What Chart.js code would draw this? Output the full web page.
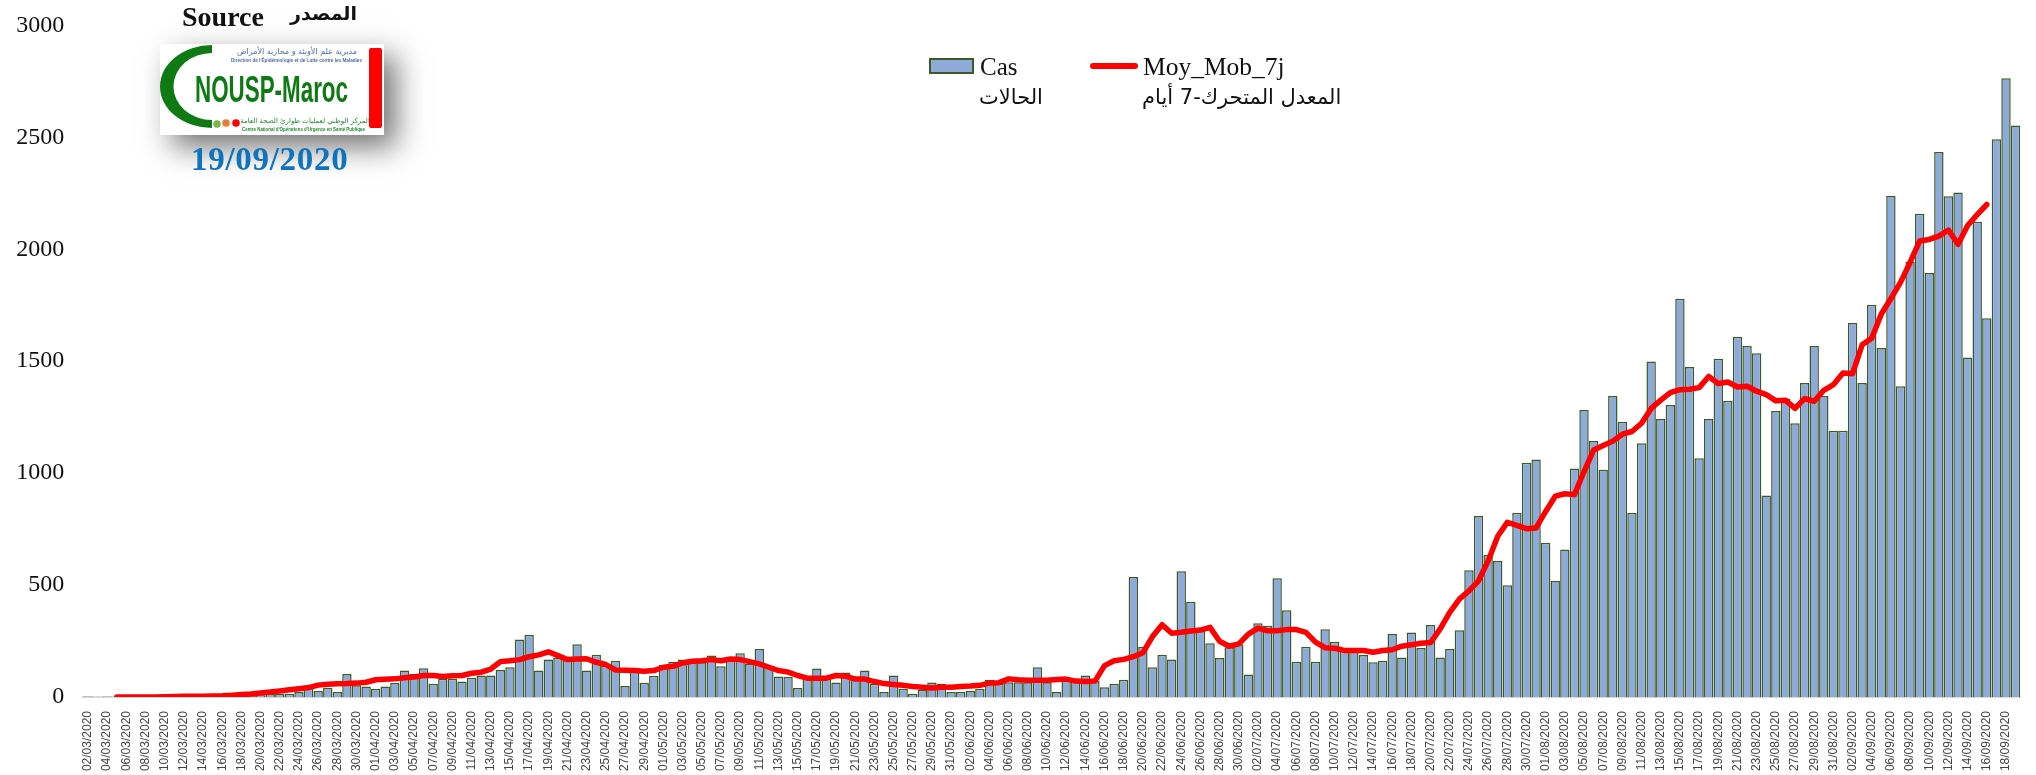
<!DOCTYPE html>
<html lang="fr">
<head>
<meta charset="utf-8">
<title>Cas COVID-19 Maroc</title>
<script src="https://cdn.jsdelivr.net/npm/chart.js@4/dist/chart.umd.min.js"></script>
<style>
  html, body { margin: 0; padding: 0; background: #fff; }
  #wrap { position: relative; width: 2036px; height: 775px; overflow: hidden; }
  #wrap canvas { position: absolute; left: 0; top: 0; }
  .t { position: absolute; white-space: nowrap; line-height: 1; color: #111; }
  .serif { font-family: "Liberation Serif", serif; }
  .ar { font-family: "DejaVu Sans", sans-serif; direction: rtl; }
  #logo { position: absolute; left: 160px; top: 44px; width: 224px; height: 91px; background: #fff;
          box-shadow: 12px 12px 28px rgba(0,0,0,.55); }
  #swatch { position: absolute; left: 929px; top: 58px; width: 41px; height: 12px; background: #8eaadb; border: 2px solid #3d5c23; }
  #lineKey { position: absolute; left: 1090px; top: 63px; width: 48px; height: 6px; border-radius: 3px; background: #ff0000; }
</style>
</head>
<body>
<div id="wrap">
  <canvas id="casChart" width="2036" height="775"></canvas>

  <div id="logo">
    <svg width="224" height="91" viewBox="0 0 224 91">
      <path d="M52 1 A52 41.5 0 0 0 52 84 L52 76 A38 33 0 0 1 52 9 Z" fill="#0f7a14"/>
      <text x="35" y="58" font-family="Liberation Sans" font-weight="bold" font-size="36" fill="#0f7a14" textLength="153" lengthAdjust="spacingAndGlyphs">NOUSP-Maroc</text>
      <text x="137" y="10" font-family="DejaVu Sans" font-size="8" fill="#4a6fa5" text-anchor="middle" direction="rtl">مديرية علم الأوبئة و محاربة الأمراض</text>
      <text x="71" y="18" font-family="Liberation Sans" font-weight="bold" font-size="5.5" fill="#4a6fa5" textLength="131" lengthAdjust="spacingAndGlyphs">Direction de l'Épidémiologie et de Lutte contre les Maladies</text>
      <text x="145" y="79" font-family="DejaVu Sans" font-size="7" fill="#1c8a2a" text-anchor="middle" direction="rtl">المركز الوطني لعمليات طوارئ الصحة العامة</text>
      <text x="82" y="87" font-family="Liberation Sans" font-weight="bold" font-size="5" fill="#1c8a2a" textLength="123" lengthAdjust="spacingAndGlyphs">Centre National d'Opérations d'Urgence en Santé Publique</text>
      <circle cx="57" cy="80" r="3.8" fill="#7ab648"/>
      <circle cx="66" cy="79" r="3.8" fill="#ed7d31"/>
      <circle cx="76" cy="79" r="3.8" fill="#ff0000"/>
      <rect x="209" y="4" width="13" height="80" rx="2" fill="#ff0000"/>
    </svg>
  </div>

  <div class="t serif" style="left:182px; top:3px; font-size:28px; font-weight:bold;">Source</div>
  <div class="t ar" style="left:290px; top:4px; font-size:19px; font-weight:bold;">المصدر</div>
  <div class="t serif" style="left:191px; top:143px; font-size:33px; font-weight:bold; letter-spacing:0.7px; color:#0f73bd;">19/09/2020</div>

  <div id="swatch"></div>
  <div class="t serif" style="left:980px; top:54px; font-size:25px;">Cas</div>
  <div class="t ar" style="left:979px; top:87px; font-size:21px;">الحالات</div>
  <div id="lineKey"></div>
  <div class="t serif" style="left:1143px; top:54px; font-size:25.5px;">Moy_Mob_7j</div>
  <div class="t ar" style="left:1142px; top:87px; font-size:21px;">المعدل المتحرك-7 أيام</div>
</div>

<script>
// dates, one bar per day
const categories = [
  "02/03/2020","03/03/2020","04/03/2020","05/03/2020","06/03/2020","07/03/2020","08/03/2020","09/03/2020","10/03/2020","11/03/2020",
  "12/03/2020","13/03/2020","14/03/2020","15/03/2020","16/03/2020","17/03/2020","18/03/2020","19/03/2020","20/03/2020","21/03/2020",
  "22/03/2020","23/03/2020","24/03/2020","25/03/2020","26/03/2020","27/03/2020","28/03/2020","29/03/2020","30/03/2020","31/03/2020",
  "01/04/2020","02/04/2020","03/04/2020","04/04/2020","05/04/2020","06/04/2020","07/04/2020","08/04/2020","09/04/2020","10/04/2020",
  "11/04/2020","12/04/2020","13/04/2020","14/04/2020","15/04/2020","16/04/2020","17/04/2020","18/04/2020","19/04/2020","20/04/2020",
  "21/04/2020","22/04/2020","23/04/2020","24/04/2020","25/04/2020","26/04/2020","27/04/2020","28/04/2020","29/04/2020","30/04/2020",
  "01/05/2020","02/05/2020","03/05/2020","04/05/2020","05/05/2020","06/05/2020","07/05/2020","08/05/2020","09/05/2020","10/05/2020",
  "11/05/2020","12/05/2020","13/05/2020","14/05/2020","15/05/2020","16/05/2020","17/05/2020","18/05/2020","19/05/2020","20/05/2020",
  "21/05/2020","22/05/2020","23/05/2020","24/05/2020","25/05/2020","26/05/2020","27/05/2020","28/05/2020","29/05/2020","30/05/2020","31/05/2020",
  "01/06/2020","02/06/2020","03/06/2020","04/06/2020","05/06/2020","06/06/2020","07/06/2020","08/06/2020","09/06/2020","10/06/2020",
  "11/06/2020","12/06/2020","13/06/2020","14/06/2020","15/06/2020","16/06/2020","17/06/2020","18/06/2020","19/06/2020","20/06/2020",
  "21/06/2020","22/06/2020","23/06/2020","24/06/2020","25/06/2020","26/06/2020","27/06/2020","28/06/2020","29/06/2020","30/06/2020",
  "01/07/2020","02/07/2020","03/07/2020","04/07/2020","05/07/2020","06/07/2020","07/07/2020","08/07/2020","09/07/2020","10/07/2020",
  "11/07/2020","12/07/2020","13/07/2020","14/07/2020","15/07/2020","16/07/2020","17/07/2020","18/07/2020","19/07/2020","20/07/2020",
  "21/07/2020","22/07/2020","23/07/2020","24/07/2020","25/07/2020","26/07/2020","27/07/2020","28/07/2020","29/07/2020","30/07/2020","31/07/2020",
  "01/08/2020","02/08/2020","03/08/2020","04/08/2020","05/08/2020","06/08/2020","07/08/2020","08/08/2020","09/08/2020","10/08/2020",
  "11/08/2020","12/08/2020","13/08/2020","14/08/2020","15/08/2020","16/08/2020","17/08/2020","18/08/2020","19/08/2020","20/08/2020",
  "21/08/2020","22/08/2020","23/08/2020","24/08/2020","25/08/2020","26/08/2020","27/08/2020","28/08/2020","29/08/2020","30/08/2020","31/08/2020",
  "01/09/2020","02/09/2020","03/09/2020","04/09/2020","05/09/2020","06/09/2020","07/09/2020","08/09/2020","09/09/2020","10/09/2020",
  "11/09/2020","12/09/2020","13/09/2020","14/09/2020","15/09/2020","16/09/2020","17/09/2020","18/09/2020","19/09/2020"
];

// daily cases
const cas = [
  2,0,2,0,0,0,0,0,1,2, 3,1,0,2,10,10,9,10,8,13, 15,15,22,47,27,41,22,103,52,47,
  37,47,62,118,103,128,59,81,81,69, 86,96,96,121,133,257,278,118,168,175,
  165,236,118,189,140,162,49,128,64,95, 143,158,168,155,155,185,137,165,195,148,
  214,140,92,89,40,81,127,81,65,109, 81,118,59,22,96,37,15,32,65,59, 22,
  22,27,37,77,59,66,66,66,133,66, 22,74,71,96,71,44,59,77,536,225,
  133,189,168,562,426,295,240,174,222,236,
  100,329,318,530,388,158,224,158,303,247, 214,207,188,155,162,281,177,288,219,322,
  177,214,298,566,808,634,608,499,823,1046,1061,
  689,518,659,1021,1282,1143,1015,1345,1230,823, 1134,1499,1242,1304,1779,1474,1066,1242,1511,1323,
  1609,1568,1536,900,1277,1333,1223,1403,1568,1345,1189,
  1189,1671,1403,1752,1559,2238,1388,1945,2159,1894, 2435,2237,2254,1516,2123,1692,2491,2764,2553
];

// 7 day moving average, centred
const moyMob7j = [
  null,null,null,0,0,0,0,0,1,2, 3,3,3,5,6,8,11,13,18,22, 27,32,37,42,53,57,59,60,62,66,
  77,79,81,86,89,96,96,92,95,96, 106,111,125,158,162,167,180,188,202,185,
  167,170,171,155,145,121,120,118,115,118, 133,137,152,160,162,167,162,170,167,158,
  148,133,118,111,96,84,84,84,96,93, 80,80,69,60,56,52,47,44,40,44, 44,
  47,49,52,62,64,81,77,75,75,75, 78,80,71,69,71,140,162,168,180,198,
  270,323,285,289,295,299,311,249,227,237,
  281,308,296,296,301,301,289,245,220,218, 208,208,208,200,208,211,227,233,240,243,
  304,378,437,474,519,608,718,780,767,752,755,
  829,897,908,904,1007,1103,1123,1143,1174,1186, 1223,1289,1326,1360,1373,1375,1382,1432,1400,1407,
  1385,1388,1366,1351,1323,1326,1289,1333,1321,1370,1395,
  1447,1444,1573,1603,1711,1780,1852,1941,2037,2044, 2059,2086,2022,2106,2155,2200,null,null,null
];

const yMax = 3000;
const yStep = 500;

new Chart(document.getElementById("casChart"), {
  data: {
    labels: categories,
    datasets: [
      {
        type: "line",
        label: "Moy_Mob_7j",
        data: moyMob7j,
        borderColor: "#ff0000",
        borderWidth: 5.5,
        borderCapStyle: "round",
        borderJoinStyle: "round",
        pointRadius: 0,
        tension: 0,
        order: 1,
      },
      {
        type: "bar",
        label: "Cas",
        data: cas,
        backgroundColor: "#8eaadb",
        borderColor: "#3d5c23",
        borderWidth: 1.5,
        categoryPercentage: 1,
        barPercentage: 0.98,
        order: 2,
      },
    ],
  },
  options: {
    responsive: false,
    animation: false,
    layout: { padding: { top: 2, right: 9, left: 0, bottom: 0 } },
    plugins: { legend: { display: false }, tooltip: { enabled: false } },
    scales: {
      x: {
        grid: { display: false },
        border: { color: "#d9d9d9", width: 2 },
        afterFit: function (s) { s.height = 78; },
        ticks: {
          autoSkip: false,
          minRotation: 90,
          maxRotation: 90,
          padding: 6,
          color: "#444",
          font: { family: "Liberation Sans", size: 12 },
          callback: function (v, i) { return i % 2 === 0 ? categories[i] : ""; },
        },
      },
      y: {
        min: 0,
        max: yMax,
        grid: { display: false },
        border: { display: false },
        afterFit: function (s) { s.width = 83.2; },
        ticks: {
          stepSize: yStep,
          padding: 11,
          color: "#111",
          font: { family: "Liberation Serif", size: 24 },
          callback: function (v) { return String(v); },
        },
      },
    },
  },
});
</script>
</body>
</html>
